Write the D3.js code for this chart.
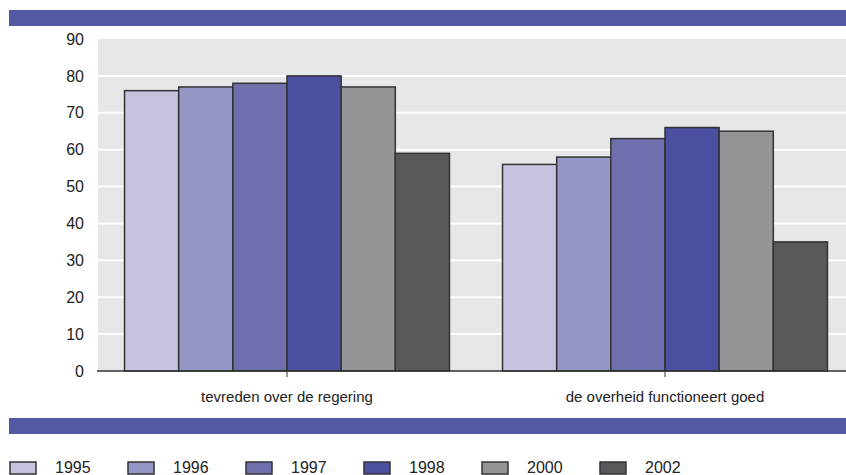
<!DOCTYPE html>
<html><head><meta charset="utf-8">
<script src="https://cdn.jsdelivr.net/npm/d3@7"></script>
<style>body{margin:0;background:#fff}svg{display:block}text{font-family:"Liberation Sans",Arial,sans-serif;fill:#222}</style>
</head><body>
<svg id="c" width="846" height="475"></svg>
<script>
const categories = ["tevreden over de regering", "de overheid functioneert goed"];
const years = ["1995", "1996", "1997", "1998", "2000", "2002"];
const values1995 = [76, 56];
const values1996 = [77, 58];
const values1997 = [78, 63];
const values1998 = [80, 66];
const values2000 = [77, 65];
const values2002 = [59, 35];
const yTicks = [0, 10, 20, 30, 40, 50, 60, 70, 80, 90];
const colors = ["#c4c3e0", "#9595c6", "#6f6fae", "#4a4fa0", "#939598", "#58595c"];

const series = [values1995, values1996, values1997, values1998, values2000, values2002];
const svg = d3.select("#c");
const L = 98, R = 854, T = 39, B = 371;
const y = d3.scaleLinear().domain([0, 90]).range([B, T]);
const x0 = d3.scaleBand().domain(categories).range([L, R]);
const x1 = d3.scaleBand().domain(years).range([0, x0.bandwidth()]).paddingOuter(0.49);

// top & bottom bands
svg.append("rect").attr("x", 9).attr("y", 10).attr("width", 837).attr("height", 16).attr("fill", "#5359a3");
svg.append("rect").attr("x", 9).attr("y", 418).attr("width", 837).attr("height", 16).attr("fill", "#5359a3");

// plot background
svg.append("rect").attr("x", L).attr("y", T).attr("width", 846 - L).attr("height", B - T).attr("fill", "#e6e7e8");
// gridlines
svg.append("g").selectAll("line").data(yTicks.filter(d => d > 0 && d < 90)).join("line")
  .attr("x1", L).attr("x2", 846).attr("y1", d => y(d)).attr("y2", d => y(d))
  .attr("stroke", "#fff").attr("stroke-width", 2);

// bars
const g = svg.append("g");
categories.forEach((c, ci) => {
  years.forEach((yr, yi) => {
    const v = series[yi][ci];
    g.append("rect")
      .attr("x", x0(c) + x1(yr)).attr("y", y(v))
      .attr("width", x1.bandwidth()).attr("height", y(0) - y(v))
      .attr("fill", colors[yi]).attr("stroke", "#333").attr("stroke-width", 1.5);
  });
});

// x axis
const xa = svg.append("g").attr("transform", `translate(0,${B})`)
  .call(d3.axisBottom(x0).tickSizeInner(6).tickSizeOuter(0).tickPadding(14));
xa.select(".domain").attr("d", `M${L - 1},0H846`).attr("stroke", "#333").attr("stroke-width", 1.5);
xa.selectAll(".tick line").attr("stroke", "#333");
xa.selectAll(".tick text").attr("font-size", 15).attr("fill", "#222");

// y axis labels
const ya = svg.append("g").attr("transform", `translate(${L},0)`)
  .call(d3.axisLeft(y).tickValues(yTicks).tickSize(0).tickPadding(14));
ya.select(".domain").remove();
ya.selectAll(".tick text").attr("font-size", 16).attr("fill", "#222");

// legend
const lg = svg.append("g").attr("transform", "translate(10,462)");
years.forEach((yr, i) => {
  const e = lg.append("g").attr("transform", `translate(${i * 118},0)`);
  e.append("rect").attr("width", 26).attr("height", 12).attr("fill", colors[i]).attr("stroke", "#333").attr("stroke-width", 1.5);
  e.append("text").attr("x", 45).attr("y", 11).attr("font-size", 16).text(yr);
});
</script>
</body></html>
